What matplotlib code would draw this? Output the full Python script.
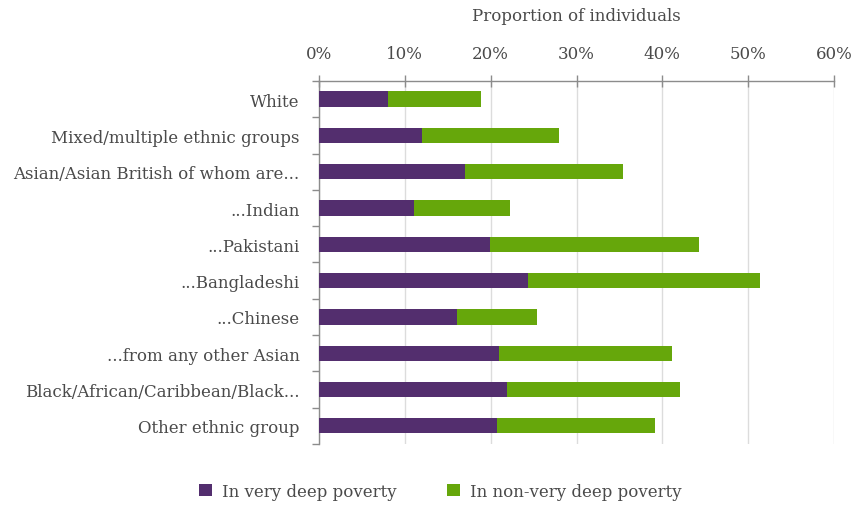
import numpy as np
import matplotlib
matplotlib.use("Agg")
import matplotlib.pyplot as plt
from matplotlib.ticker import FixedLocator, PercentFormatter

categories = [
    "White",
    "Mixed/multiple ethnic groups",
    "Asian/Asian British of whom are...",
    "...Indian",
    "...Pakistani",
    "...Bangladeshi",
    "...Chinese",
    "...from any other Asian",
    "Black/African/Caribbean/Black...",
    "Other ethnic group",
]
# in percent
very_deep = [8.0, 12.0, 17.0, 11.1, 19.9, 24.4, 16.1, 21.0, 21.9, 20.7]
total = [18.9, 28.0, 35.4, 22.3, 44.3, 51.4, 25.4, 41.1, 42.0, 39.2]
non_very_deep = [t - v for t, v in zip(total, very_deep)]

series_names = ["In very deep poverty", "In non-very deep poverty"]
x_ticks = [0, 10, 20, 30, 40, 50, 60]

PURPLE = "#532e6e"
GREEN = "#66a70b"
TEXT = "#4a4a4a"
AXIS = "#8c8c8c"

plt.rcParams["font.family"] = ["DejaVu Serif"]

fig = plt.figure(figsize=(8.52, 5.06), dpi=100)
ax = fig.add_axes([0.3744, 0.1206, 0.6045, 0.7174])

y = np.arange(len(categories))
ax.barh(y, very_deep, height=0.42, color=PURPLE, label=series_names[0], zorder=3)
ax.barh(y, non_very_deep, left=very_deep, height=0.42, color=GREEN,
        label=series_names[1], zorder=3)

ax.set_ylim(len(categories) - 0.5, -0.5)
ax.set_xlim(0, 60)

ax.xaxis.set_ticks_position("top")
ax.xaxis.set_label_position("top")
ax.set_xticks(x_ticks)
ax.xaxis.set_major_formatter(PercentFormatter(decimals=0))
ax.tick_params(axis="x", direction="inout", length=8, width=1, color=AXIS,
               labelsize=12, labelcolor=TEXT, pad=10)
ax.set_xlabel("Proportion of individuals", fontsize=12, color=TEXT, labelpad=18)

ax.set_yticks(y)
ax.set_yticklabels(categories)
ax.yaxis.set_minor_locator(FixedLocator(np.arange(-0.5, len(categories), 1.0)))
ax.tick_params(axis="y", which="major", length=0, labelsize=12, labelcolor=TEXT, pad=14)
ax.tick_params(axis="y", which="minor", length=5, width=1, color=AXIS)

ax.grid(axis="x", color="#dcdcdc", linewidth=1, zorder=0)
for side in ["right", "bottom"]:
    ax.spines[side].set_visible(False)
for side in ["top", "left"]:
    ax.spines[side].set_color(AXIS)
    ax.spines[side].set_linewidth(1)

leg = fig.legend(loc="center", bbox_to_anchor=(0.517, 0.027), ncol=2, frameon=False,
                 fontsize=12, handlelength=0.8, handleheight=0.8, columnspacing=3.0,
                 handletextpad=0.6)
for t in leg.get_texts():
    t.set_color(TEXT)

fig.savefig("out.png", dpi=100)
